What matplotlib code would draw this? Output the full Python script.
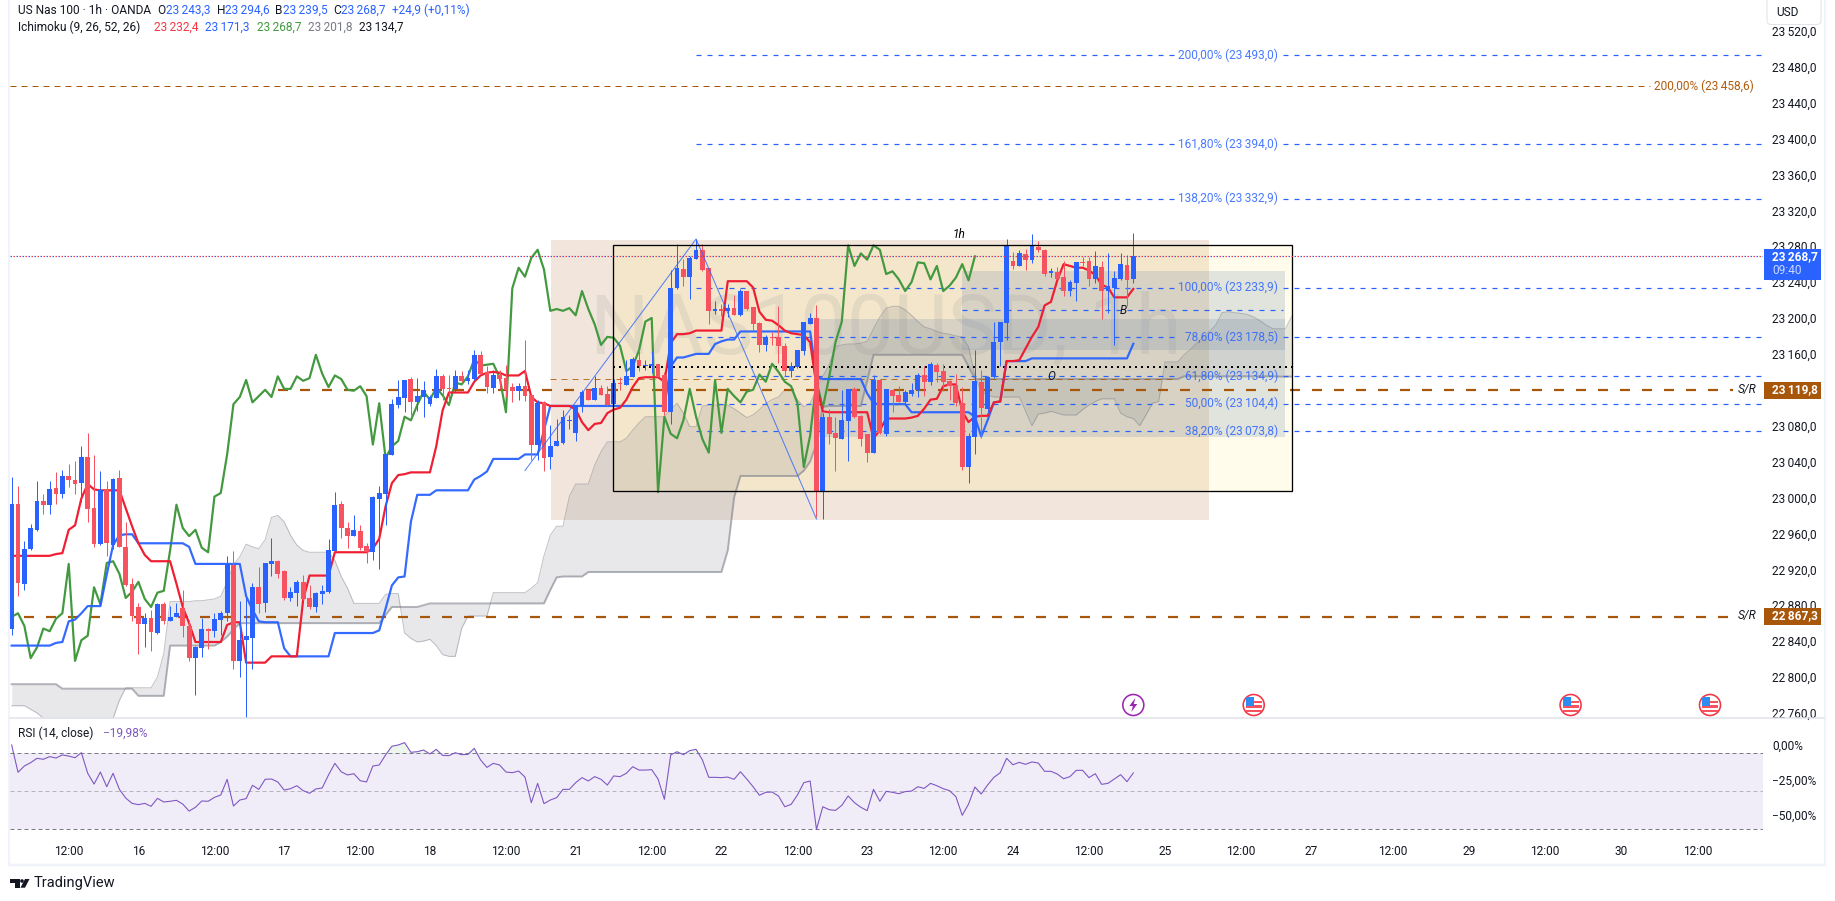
"""US Nas 100 1h chart with Ichimoku, fib levels and RSI pane."""

import numpy as np
import matplotlib
matplotlib.use('Agg')
import matplotlib.pyplot as plt
from matplotlib.patches import Rectangle, Circle, Polygon, FancyBboxPatch

plt.rcParams['font.family'] = ['Roboto', 'DejaVu Sans']
plt.rcParams['lines.scale_dashes'] = False

# ---- candles, one per hour bar ----
opens = [
    22854, 22993, 22904, 22943, 22964, 22996, 22992, 23011, 23004, 23024,
    23020, 23016, 23045, 22988, 22948, 23008, 22947, 23022, 22945, 22904,
    22878, 22859, 22866, 22849, 22881, 22862, 22867, 22877, 22857, 22821,
    22832, 22854, 22851, 22864, 22871, 22925, 22818, 22841, 22843, 22900,
    22882, 22926, 22929, 22918, 22888, 22894, 22906, 22888, 22878, 22892,
    22895, 22940, 22993, 22966, 22957, 22963, 22946, 22939, 22998, 23004,
    23047, 23103, 23111, 23132, 23106, 23112, 23104, 23111, 23135, 23122,
    23121, 23135, 23130, 23132, 23159, 23140, 23122, 23136, 23133, 23123,
    23119, 23124, 23114, 23059, 23106, 23045, 23057, 23061, 23085, 23072,
    23102, 23120, 23109, 23122, 23115, 23104, 23128, 23125, 23134, 23153,
    23147, 23147, 23149, 23137, 23095, 23233, 23255, 23246, 23266, 23276,
    23256, 23208, 23210, 23208, 23211, 23203, 23230, 23212, 23194, 23170,
    23179, 23179, 23169, 23141, 23145, 23163, 23193, 23200, 23006, 23090,
    23072, 23065, 23085, 23121, 23091, 23071, 23050, 23131, 23071, 23120,
    23114, 23106, 23115, 23120, 23137, 23129, 23148, 23141, 23130, 23125,
    23105, 23034, 23067, 23129, 23099, 23134, 23173, 23194, 23264, 23258,
    23271, 23265, 23279, 23276, 23250, 23251, 23246, 23230, 23239, 23262,
    23264, 23243, 23257, 23230, 23233, 23243, 23259, 23243.3,
]
closes = [
    22993, 22905, 22943, 22966, 22996, 22992, 23010, 23004, 23024, 23020,
    23015, 23045, 22987, 22948, 23008, 22949, 23021, 22945, 22903, 22868,
    22859, 22866, 22850, 22881, 22862, 22867, 22871, 22857, 22821, 22833,
    22854, 22851, 22865, 22871, 22926, 22818, 22841, 22846, 22900, 22881,
    22927, 22929, 22915, 22888, 22895, 22906, 22887, 22878, 22894, 22896,
    22941, 22992, 22966, 22957, 22964, 22944, 22939, 23001, 23005, 23048,
    23104, 23112, 23131, 23106, 23113, 23120, 23112, 23135, 23121, 23121,
    23135, 23130, 23133, 23159, 23138, 23123, 23136, 23132, 23120, 23119,
    23124, 23113, 23059, 23105, 23044, 23057, 23063, 23090, 23086, 23103,
    23118, 23109, 23122, 23114, 23103, 23128, 23126, 23135, 23154, 23147,
    23148, 23149, 23134, 23095, 23233, 23256, 23246, 23267, 23276, 23254,
    23208, 23210, 23208, 23211, 23203, 23230, 23210, 23193, 23170, 23179,
    23178, 23169, 23141, 23146, 23164, 23196, 23200, 23006, 23090, 23071,
    23066, 23086, 23121, 23090, 23065, 23050, 23131, 23072, 23121, 23113,
    23106, 23118, 23120, 23137, 23129, 23149, 23140, 23129, 23124, 23105,
    23034, 23069, 23130, 23100, 23134, 23173, 23196, 23281, 23258, 23272,
    23265, 23281, 23276, 23249, 23252, 23243, 23230, 23240, 23262, 23261,
    23243, 23258, 23230, 23236, 23245, 23260, 23242, 23268.7,
]
highs = [
    23023, 23013, 22951, 22971, 23018, 23004, 23018, 23028, 23031, 23037,
    23041, 23057, 23072, 23047, 23030, 23018, 23022, 23031, 22973, 22910,
    22882, 22871, 22875, 22882, 22884, 22879, 22882, 22897, 22864, 22834,
    22866, 22855, 22871, 22874, 22935, 22940, 22885, 22889, 22905, 22923,
    22927, 22955, 22930, 22919, 22900, 22908, 22914, 22902, 22895, 22902,
    22954, 23006, 22996, 22973, 22980, 22969, 22949, 23002, 23013, 23049,
    23110, 23131, 23131, 23134, 23133, 23130, 23114, 23143, 23138, 23137,
    23142, 23141, 23142, 23164, 23163, 23147, 23142, 23142, 23148, 23128,
    23128, 23175, 23114, 23109, 23107, 23081, 23088, 23098, 23092, 23103,
    23120, 23121, 23135, 23125, 23124, 23132, 23134, 23153, 23157, 23165,
    23153, 23163, 23149, 23140, 23253, 23282, 23266, 23269, 23288, 23282,
    23256, 23219, 23216, 23216, 23226, 23232, 23230, 23212, 23195, 23181,
    23184, 23213, 23172, 23151, 23164, 23196, 23206, 23215, 23094, 23099,
    23090, 23120, 23121, 23123, 23092, 23071, 23136, 23131, 23121, 23121,
    23124, 23120, 23128, 23139, 23146, 23151, 23150, 23149, 23131, 23138,
    23123, 23072, 23164, 23142, 23135, 23196, 23196, 23288, 23274, 23276,
    23277, 23294, 23286, 23277, 23256, 23257, 23263, 23242, 23262, 23268,
    23268, 23275, 23264, 23272, 23252, 23272, 23270, 23294.6,
]
lows = [
    22847, 22890, 22897, 22941, 22963, 22982, 22982, 22993, 23000, 23012,
    23004, 22995, 22973, 22945, 22947, 22935, 22943, 22945, 22901, 22862,
    22826, 22833, 22829, 22848, 22859, 22862, 22867, 22845, 22818, 22780,
    22822, 22831, 22845, 22847, 22862, 22809, 22800, 22754, 22809, 22871,
    22872, 22913, 22910, 22886, 22885, 22879, 22886, 22876, 22872, 22881,
    22894, 22940, 22955, 22944, 22957, 22941, 22927, 22930, 22920, 22969,
    23047, 23100, 23095, 23092, 23096, 23090, 23102, 23111, 23109, 23109,
    23118, 23129, 23126, 23131, 23138, 23116, 23116, 23121, 23112, 23106,
    23109, 23108, 23042, 23042, 23030, 23032, 23057, 23060, 23076, 23063,
    23095, 23109, 23109, 23114, 23102, 23104, 23120, 23125, 23134, 23141,
    23142, 23139, 23134, 23092, 23082, 23232, 23236, 23221, 23266, 23252,
    23193, 23204, 23202, 23201, 23203, 23202, 23209, 23187, 23162, 23163,
    23170, 23150, 23135, 23134, 23144, 23159, 23193, 22978, 22976, 23060,
    23029, 23065, 23041, 23089, 23057, 23040, 23050, 23071, 23069, 23095,
    23106, 23103, 23113, 23112, 23113, 23125, 23129, 23119, 23109, 23102,
    23031, 23016, 23048, 23066, 23094, 23133, 23146, 23176, 23255, 23258,
    23253, 23261, 23274, 23247, 23246, 23243, 23225, 23225, 23219, 23258,
    23236, 23239, 23199, 23206, 23170, 23242, 23213, 23239.5,
]

# ---- ichimoku ----
tenkan = [
    22935, 22935, 22935, 22935, 22935, 22935, 22935, 22937, 22938, 22964,
    22969, 22999, 23015, 23009, 23008, 23008, 23008, 23008, 22988, 22968,
    22949, 22936, 22929, 22929, 22929, 22929, 22904, 22878, 22860, 22839,
    22839, 22839, 22839, 22839, 22858, 22861, 22861, 22816, 22816, 22816,
    22816, 22823, 22823, 22823, 22823, 22823, 22886, 22913, 22913, 22913,
    22913, 22939, 22939, 22939, 22939, 22939, 22939, 22943, 22954, 22990,
    23016, 23025, 23026, 23028, 23028, 23028, 23028, 23057, 23097, 23117,
    23117, 23117, 23117, 23129, 23136, 23139, 23140, 23139, 23136, 23136,
    23136, 23141, 23112, 23106, 23105, 23102, 23102, 23102, 23102, 23098,
    23084, 23075, 23082, 23083, 23094, 23098, 23100, 23109, 23123, 23133,
    23134, 23134, 23134, 23129, 23172, 23182, 23182, 23183, 23186, 23186,
    23186, 23186, 23186, 23241, 23241, 23241, 23241, 23234, 23207, 23198,
    23197, 23192, 23186, 23183, 23182, 23181, 23173, 23124, 23096, 23095,
    23095, 23095, 23095, 23095, 23095, 23095, 23066, 23075, 23088, 23088,
    23088, 23088, 23089, 23091, 23099, 23109, 23110, 23124, 23126, 23126,
    23096, 23084, 23090, 23091, 23091, 23106, 23107, 23152, 23152, 23153,
    23166, 23179, 23190, 23214, 23218, 23242, 23260, 23258, 23256, 23256,
    23253, 23248, 23237, 23234, 23223, 23223, 23223, 23232.4,
]
kijun = [
    22835, 22835, 22835, 22835, 22835, 22835, 22835, 22838, 22839, 22862,
    22864, 22871, 22879, 22879, 22879, 22914, 22947, 22958, 22959, 22959,
    22949, 22949, 22949, 22949, 22949, 22949, 22949, 22949, 22945, 22926,
    22926, 22926, 22926, 22926, 22926, 22926, 22926, 22890, 22875, 22862,
    22861, 22861, 22861, 22832, 22823, 22823, 22823, 22823, 22823, 22823,
    22823, 22849, 22849, 22849, 22849, 22849, 22849, 22849, 22852, 22876,
    22902, 22911, 22912, 22973, 23003, 23003, 23003, 23008, 23008, 23008,
    23008, 23008, 23008, 23020, 23024, 23029, 23043, 23043, 23043, 23043,
    23043, 23048, 23048, 23048, 23075, 23102, 23102, 23102, 23102, 23102,
    23102, 23102, 23102, 23102, 23102, 23102, 23102, 23102, 23102, 23102,
    23102, 23102, 23102, 23102, 23146, 23156, 23156, 23158, 23160, 23160,
    23160, 23171, 23174, 23176, 23176, 23185, 23185, 23185, 23185, 23185,
    23185, 23185, 23185, 23185, 23185, 23185, 23185, 23135, 23132, 23132,
    23132, 23132, 23132, 23132, 23132, 23116, 23105, 23104, 23104, 23104,
    23104, 23104, 23095, 23095, 23095, 23095, 23095, 23095, 23095, 23095,
    23095, 23095, 23090, 23068, 23086, 23106, 23107, 23152, 23152, 23152,
    23152, 23155, 23155, 23155, 23155, 23155, 23155, 23155, 23155, 23155,
    23155, 23155, 23155, 23155, 23155, 23155, 23155, 23171.3,
]
span_a = [
    22768, 22768, 22768, 22764, 22760, 22754, 22745, 22745, 22745, 22745,
    22745, 22745, 22745, 22745, 22745, 22745, 22754, 22774, 22788, 22788,
    22788, 22788, 22788, 22800, 22826, 22884, 22884, 22884, 22884, 22885,
    22885, 22886, 22887, 22890, 22906, 22925, 22934, 22948, 22945, 22943,
    22953, 22978, 22980, 22973, 22958, 22947, 22941, 22939, 22939, 22939,
    22939, 22930, 22912, 22899, 22882, 22882, 22882, 22882, 22882, 22892,
    22893, 22893, 22849, 22843, 22839, 22840, 22842, 22835, 22825, 22823,
    22823, 22854, 22868, 22868, 22868, 22868, 22894, 22894, 22894, 22894,
    22894, 22894, 22899, 22905, 22935, 22958, 22968, 22968, 23001, 23015,
    23015, 23015, 23036, 23051, 23062, 23062, 23062, 23066, 23075, 23083,
    23090, 23090, 23090, 23090, 23098, 23105, 23094, 23079, 23079, 23102,
    23103, 23103, 23103, 23103, 23099, 23094, 23089, 23092, 23098, 23105,
    23109, 23112, 23120, 23120, 23109, 23101, 23105, 23120, 23135, 23148,
    23168, 23170, 23171, 23171, 23172, 23174, 23188, 23201, 23211, 23213,
    23213, 23209, 23203, 23196, 23190, 23188, 23185, 23183, 23182, 23180,
    23179, 23168, 23135, 23118, 23114, 23112, 23112, 23112, 23112, 23112,
    23096, 23080, 23093, 23094, 23096, 23094, 23092, 23092, 23092, 23098,
    23103, 23107, 23110, 23110, 23110, 23094, 23090, 23088, 23080, 23092,
    23105, 23107, 23151, 23151, 23151, 23159, 23165, 23172, 23179, 23185,
    23192, 23206, 23207, 23206, 23205, 23204, 23201, 23197, 23192, 23188,
    23188, 23188, 23201.8,
]
span_b = [
    22792, 22792, 22792, 22792, 22792, 22792, 22792, 22792, 22787, 22787,
    22787, 22787, 22787, 22787, 22787, 22787, 22787, 22787, 22787, 22787,
    22779, 22779, 22779, 22779, 22779, 22835, 22835, 22835, 22835, 22835,
    22835, 22835, 22835, 22839, 22845, 22853, 22860, 22860, 22860, 22860,
    22860, 22860, 22860, 22860, 22860, 22860, 22860, 22860, 22860, 22860,
    22860, 22860, 22860, 22860, 22860, 22860, 22860, 22860, 22860, 22869,
    22878, 22878, 22878, 22878, 22878, 22880, 22882, 22882, 22882, 22882,
    22882, 22882, 22882, 22882, 22882, 22882, 22882, 22882, 22882, 22882,
    22882, 22882, 22882, 22882, 22882, 22897, 22911, 22912, 22912, 22912,
    22912, 22917, 22917, 22917, 22917, 22917, 22917, 22917, 22917, 22917,
    22917, 22917, 22917, 22917, 22917, 22917, 22917, 22917, 22917, 22917,
    22917, 22917, 22917, 22941, 23000, 23024, 23024, 23024, 23024, 23024,
    23024, 23024, 23024, 23024, 23024, 23030, 23040, 23060, 23101, 23102,
    23102, 23102, 23102, 23102, 23102, 23130, 23159, 23159, 23159, 23159,
    23159, 23159, 23159, 23159, 23159, 23159, 23159, 23159, 23159, 23159,
    23159, 23146, 23132, 23132, 23132, 23132, 23132, 23132, 23132, 23132,
    23132, 23132, 23132, 23132, 23132, 23132, 23132, 23132, 23132, 23132,
    23132, 23132, 23132, 23132, 23132, 23132, 23132, 23132, 23132, 23132,
    23132, 23132, 23132, 23132, 23132, 23135, 23135, 23135, 23135, 23135,
    23135, 23135, 23135, 23135, 23135, 23135, 23135, 23135, 23135, 23135,
    23134.7, 23134.7, 23134.7,
]
chikou_shift = 25

# ---- RSI pane ----
rsi = [
    0.0, -19.5, -15.0, -12.6, -9.5, -10.2, -8.3, -9.3, -7.1, -7.9,
    -9.1, -5.5, -20.2, -27.9, -19.3, -29.8, -20.2, -31.7, -37.9, -41.7,
    -42.6, -41.7, -43.8, -38.1, -40.7, -40.2, -39.5, -42.2, -47.2, -44.5,
    -40.0, -40.2, -37.4, -35.7, -24.5, -43.6, -39.3, -38.3, -28.8, -31.7,
    -24.5, -24.3, -26.4, -32.2, -31.2, -29.1, -32.6, -34.5, -31.4, -30.7,
    -21.4, -13.1, -19.1, -21.4, -20.5, -25.5, -26.4, -15.0, -14.3, -7.1,
    -0.9, 0.0, 1.7, -5.2, -4.8, -3.6, -6.4, -3.1, -7.4, -7.6,
    -5.5, -6.9, -6.7, -2.4, -10.7, -16.0, -13.1, -14.3, -19.3, -19.8,
    -18.6, -22.9, -41.2, -27.4, -41.9, -39.3, -37.6, -31.7, -31.7, -26.9,
    -23.3, -25.7, -22.6, -24.5, -28.6, -22.1, -22.6, -20.2, -15.5, -17.9,
    -17.9, -17.6, -24.3, -38.8, -7.1, -4.8, -6.9, -4.0, -3.1, -10.7,
    -23.1, -23.1, -23.3, -22.9, -24.5, -19.1, -24.3, -29.8, -35.9, -33.8,
    -33.6, -36.4, -44.1, -42.4, -35.7, -26.9, -25.7, -60.3, -44.1, -46.2,
    -46.7, -43.1, -36.4, -41.2, -44.5, -46.9, -31.7, -40.2, -33.1, -33.8,
    -34.8, -33.3, -32.9, -29.8, -31.0, -27.4, -29.1, -31.2, -32.6, -36.9,
    -50.2, -42.2, -30.0, -35.0, -28.6, -23.1, -19.8, -9.5, -14.1, -12.4,
    -13.8, -12.1, -12.9, -18.8, -18.8, -20.7, -24.1, -22.6, -18.1, -18.1,
    -23.3, -20.5, -28.1, -27.4, -24.3, -21.2, -26.2, -19.98,
]
rsi_bands = [-5.95, -33.07, -60.2]
rsi_ticks = [0, -25, -50]

# ---- levels ----
fib_levels = [23493.0, 23394.0, 23332.9, 23233.9, 23178.5, 23134.9, 23104.4, 23073.8]
fib_names = ['200,00%', '161,80%', '138,20%', '100,00%', '78,60%', '61,80%', '50,00%', '38,20%']
sr_levels = [23119.8, 22867.3]
sr_start_bars = [42, 2]
last_price = 23268.7
zigzag_bars = [81, 108, 127]
zigzag_prices = [23030, 23288, 22976]

time_bars = [9, 20, 32, 43, 55, 66, 78, 89, 101, 112, 124, 135, 147, 158, 170,
             182, 194, 205, 218, 230, 242, 254, 266]
time_labels = ['12:00', '16', '12:00', '17', '12:00', '18', '12:00', '21', '12:00', '22',
               '12:00', '23', '12:00', '24', '12:00', '25', '12:00', '27', '12:00', '29',
               '12:00', '30', '12:00']
price_ticks = list(range(22760, 23521, 40))

BLUE = '#2962ff'
RED = '#f7525f'
LINE_RED = '#f01e32'
TEXT = '#131722'
BROWN = '#a8560a'
W, H = 1835, 901
BAR0_PX, BAR_PX = 11.67, 6.337
PANE_L, PANE_R, PANE_B = 10, 1763, 718


def px(n):
    """像素转成磅"""
    return n * 0.72


def dash(on, off):
    return (0, (px(on), px(off)))


def spaced(v, dec=1):
    """23268.7 -> 23 268,7"""
    s = f'{v:.{dec}f}'.replace('.', ',')
    return s[:2] + '\u2009' + s[2:]


def bar_x(n):
    return BAR0_PX + BAR_PX * n


def bar_at(x_px):
    return (x_px - BAR0_PX) / BAR_PX


fig = plt.figure(figsize=(W / 100, H / 100), dpi=100)
ax = fig.add_axes([PANE_L / W, 1 - PANE_B / H, (PANE_R - PANE_L) / W, PANE_B / H])
ax_rsi = fig.add_axes([PANE_L / W, 1 - 838 / H, (PANE_R - PANE_L) / W, (838 - 719) / H])

x_lim = (bar_at(PANE_L), bar_at(PANE_R))
bars = np.arange(len(opens))

# 背景矩形
ax.add_patch(Rectangle((85.1, 22974.9), 103.8, 312, fc='#f2e6dc', ec='none', zorder=1))
ax.add_patch(Rectangle((94.9, 23007), 107.2, 274, fc='#ffeb3b', alpha=0.1, ec='none', zorder=1.1))
ax.text(138, 23186, 'NAS100USD, 1h', fontsize=60, color='#787b86', alpha=0.13,
        ha='center', va='center', zorder=1.2)
ax.add_patch(Rectangle((126.8, 23067.8), 74.1, 130.7, fc='#6b86a8', alpha=0.2, ec='none', zorder=1.3))
ax.add_patch(Rectangle((150, 23164.3), 50.9, 88.1, fc='#6b86a8', alpha=0.2, ec='none', zorder=1.3))

# 云图
cloud_x = np.arange(len(span_a))
ax.fill_between(cloud_x, span_a, span_b, color='#787b86', alpha=0.17, lw=0, zorder=2)
ax.plot(cloud_x, span_a, color='#787b86', alpha=0.45, lw=px(1), zorder=2.1)
ax.plot(cloud_x, span_b, color='#787b86', alpha=0.55, lw=px(2), zorder=2.1)

# 水平线
ax.plot([x_lim[0], bar_at(1650)], [23458.6] * 2, color=BROWN, lw=px(1), ls=dash(6, 5), zorder=3)
ax.plot([85, 183.5], [23131.7] * 2, color=BROWN, lw=px(1), ls=dash(6, 5), alpha=0.8, zorder=3)
ax.plot([94.9, 202.1], [23145] * 2, color='black', lw=px(2), ls=dash(2, 4), zorder=3)
for level, start in zip(sr_levels, sr_start_bars):
    ax.plot([start, bar_at(1733)], [level, level], color=BROWN, lw=px(2.2), ls=dash(10, 12), zorder=3)
for level in fib_levels:
    ax.plot([108, 183.6], [level, level], color=BLUE, lw=px(1.2), ls=dash(5, 6), zorder=3.2)
    ax.plot([200.6, x_lim[1]], [level, level], color=BLUE, lw=px(1.2), ls=dash(5, 6), zorder=3.2)
ax.plot([150, 200.6], [23208.6] * 2, color=BLUE, lw=px(1.2), ls=dash(5, 6), zorder=3.2)

# 指标线
ax.plot(bars[:len(closes) - chikou_shift], closes[chikou_shift:], color='#43993f', lw=px(2.2), zorder=4)
ax.plot(bars, kijun, color=BLUE, lw=px(2.2), alpha=0.95, zorder=4.1)
ax.plot(bars, tenkan, color=LINE_RED, lw=px(2.2), zorder=4.2)

# K线
up = np.array(closes) >= np.array(opens)
colors = np.where(up, BLUE, RED)
ax.vlines(bars, lows, highs, colors=colors, lw=px(1), zorder=5)
ax.bar(bars, np.abs(np.array(closes) - np.array(opens)), bottom=np.minimum(opens, closes),
       width=0.76, color=colors, lw=0, zorder=5.1)

ax.plot(zigzag_bars, zigzag_prices, color=BLUE, lw=px(1), alpha=0.8, zorder=6)
ax.add_patch(Rectangle((94.9, 23007), 107.2, 274, fc='none', ec='black', lw=px(1.3), zorder=6))

# 现价线 (红蓝相间的点线)
ax.plot(x_lim, [last_price] * 2, color=BLUE, lw=px(1.2), ls=(0, (px(1.5), px(4.5))), zorder=6)
ax.plot(x_lim, [last_price] * 2, color='#f23645', lw=px(1.2), ls=(px(3), (px(1.5), px(4.5))), zorder=6.1)

ax.set_xlim(x_lim)
ax.set_ylim(23480 - (PANE_B - 66.7) * 1.1142, 23480 + 66.7 * 1.1142)
ax.set_xticks([])
ax.yaxis.tick_right()
ax.set_yticks(price_ticks)
ax.set_yticklabels([spaced(p) for p in price_ticks], fontsize=8.6, color=TEXT)
ax.tick_params(axis='y', length=0, pad=px(9))
for side in ax.spines.values():
    side.set_visible(False)

# RSI
ax_rsi.axhspan(rsi_bands[2], rsi_bands[0], color='#7e57c2', alpha=0.1, lw=0)
ax_rsi.axhline(rsi_bands[0], color='#787b86', lw=px(1), ls=dash(4, 3))
ax_rsi.axhline(rsi_bands[1], color='#787b86', lw=px(1), ls=dash(4, 3), alpha=0.5)
ax_rsi.axhline(rsi_bands[2], color='#787b86', lw=px(1), ls=dash(4, 3))
rsi_arr = np.array(rsi)
ax_rsi.fill_between(bars, rsi_arr, rsi_bands[0], where=rsi_arr > rsi_bands[0],
                    color='#4caf50', alpha=0.1, lw=0, interpolate=True)
ax_rsi.plot(bars, rsi_arr, color='#7e57c2', lw=px(1.1))
ax_rsi.set_xlim(x_lim)
ax_rsi.set_ylim(-(838 - 745) / 1.4, (745 - 719) / 1.4)
ax_rsi.yaxis.tick_right()
ax_rsi.set_yticks(rsi_ticks)
ax_rsi.set_yticklabels(['0,00%', '\u221225,00%', '\u221250,00%'], fontsize=8.6, color=TEXT)
ax_rsi.set_xticks(time_bars)
ax_rsi.set_xticklabels(time_labels, fontsize=8.6, color=TEXT)
ax_rsi.tick_params(axis='y', length=0, pad=px(9))
ax_rsi.tick_params(axis='x', length=0, pad=px(7))
for side in ax_rsi.spines.values():
    side.set_visible(False)

# 覆盖层: 文字和边框, 用像素坐标
top = fig.add_axes([0, 0, 1, 1])
top.set_xlim(0, W)
top.set_ylim(H, 0)
top.axis('off')
top.patch.set_visible(False)


def label(x, y, s, color=TEXT, size=8.6, ha='left', **kw):
    top.text(x, y, s, color=color, fontsize=size, ha=ha, va='center', **kw)


# 边框
top.plot([9, 9], [0, 865], color='#f0f3fa', lw=px(2))
top.plot([1825, 1825], [0, 865], color='#f0f3fa', lw=px(2))
top.plot([9, 1825], [865, 865], color='#f0f3fa', lw=px(2.5))
top.plot([10, 1824], [718, 718], color='#e0e3eb', lw=px(1.5))

# 图例
for x, s, c in [(18, 'US Nas 100 \u00b7 1h \u00b7 OANDA', TEXT), (157, 'O', TEXT), (166, spaced(opens[-1]), BLUE),
                (216.5, 'H', TEXT), (225, spaced(highs[-1]), BLUE), (275, 'B', TEXT),
                (283, spaced(lows[-1]), BLUE), (333, 'C', TEXT), (341, spaced(closes[-1]), BLUE),
                (392, '+24,9 (+0,11%)', BLUE)]:
    label(x, 10, s, c)
for x, s, c in [(18, 'Ichimoku (9, 26, 52, 26)', TEXT), (154, spaced(tenkan[-1]), '#f23645'),
                (205, spaced(kijun[-1]), BLUE), (257, spaced(closes[-1]), '#43993f'),
                (308, spaced(span_a[-1]), '#787b86'), (359, spaced(span_b[-1]), TEXT)]:
    label(x, 27, s, c)
label(18, 733, 'RSI (14, close)')
label(102.5, 733, '\u221219,98%', '#7e57c2')

# fib 标签
for level, name in zip(fib_levels, fib_names):
    label(1278, top.transData.inverted().transform(ax.transData.transform((0, level)))[1],
          f'{name} ({spaced(level)})', BLUE, ha='right', alpha=0.85)
label(1754, 86, f'200,00% ({spaced(23458.6)})', '#b25c0e', ha='right')
label(953, 234, '1h', 'black', style='italic')
label(1123.7, 310, 'B', TEXT, ha='center', style='italic')
label(1051, 377, 'O', TEXT, ha='center', style='italic')

# 价格标签
top.add_patch(FancyBboxPatch((1767, -3), 54, 27.5, boxstyle='round,pad=0,rounding_size=4',
                             fc='white', ec='#e0e3eb', lw=px(1), zorder=8))
label(1776, 12.5, 'USD', zorder=9)
top.add_patch(Rectangle((1764, 249), 57, 31, fc=BLUE, ec='none', zorder=8))
label(1772, 256.7, spaced(last_price), 'white', fontweight='bold', zorder=9)
label(1772, 270.7, '09:40', '#c9d8ff', zorder=9)
for level, y in zip(sr_levels, [390, 616]):
    top.add_patch(Rectangle((1764, y - 8.5), 57, 17, fc=BROWN, ec='none', zorder=8))
    label(1772, y, spaced(level), 'white', fontweight='bold', zorder=9)
    label(1738, y, 'S/R', TEXT, style='italic', zorder=9)

# 事件图标
event_bars = [196, 246, 268]
for n in event_bars:
    cx, cy = bar_x(n), 705
    disc = Circle((cx, cy), 10.5, fc='white', ec='#f23645', lw=px(1.6), zorder=8)
    top.add_patch(disc)
    top.add_patch(Circle((cx, cy), 8, fc='white', ec='none', zorder=8))
    for dy in (-3, 1.5, 6):
        strip = Rectangle((cx - 8, cy + dy - 1.3), 16, 2.6, fc='#f7525f', ec='none', zorder=8.1)
        top.add_patch(strip)
        strip.set_clip_path(disc)
    blue_box = Rectangle((cx - 8, cy - 8), 8, 8.5, fc='#2e8bf0', ec='none', zorder=8.2)
    top.add_patch(blue_box)
    blue_box.set_clip_path(disc)
cx = bar_x(177)
top.add_patch(Circle((cx, 705), 10.5, fc='white', ec='#9c27b0', lw=px(1.6), zorder=8))
top.add_patch(Polygon([(cx + 2, 698), (cx - 4, 706), (cx - 0.5, 706), (cx - 2, 712), (cx + 4, 704),
                       (cx + 0.5, 704)], fc='#9c27b0', ec='none', zorder=8.1))

# TradingView 标志
top.add_patch(Polygon([(10, 879), (19.5, 879), (19.5, 887.7), (14.5, 887.7), (14.5, 882.5), (10, 882.5)],
                      fc=TEXT, ec='none'))
top.add_patch(Circle((22, 881), 1.8, fc=TEXT, ec='none'))
top.add_patch(Polygon([(25, 879), (29.5, 879), (25, 887.7), (20.5, 887.7)], fc=TEXT, ec='none'))
label(33.5, 883, 'TradingView', size=10.5)

fig.savefig('out.png', dpi=100)
plt.close(fig)
